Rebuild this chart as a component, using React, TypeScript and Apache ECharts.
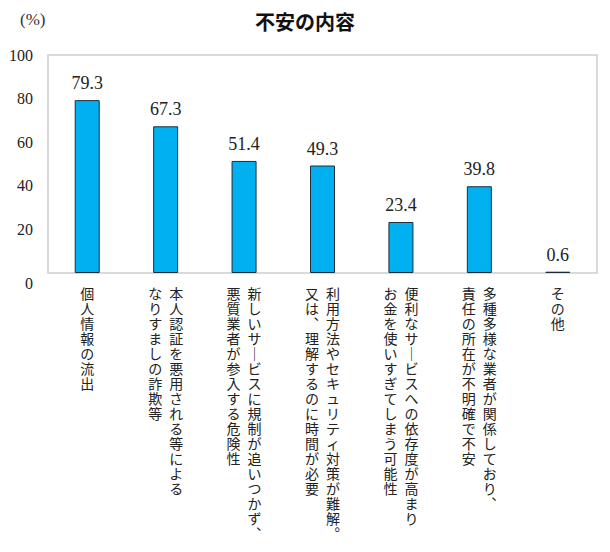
import React, { useEffect, useRef } from "react";
import * as echarts from "echarts";

const title = "不安の内容";
const unitLabel = "(%)";
// Each category: first line = right column, second line = left column (vertical writing)
const categories = [
  "個人情報の流出",
  "本人認証を悪用される等による\nなりすましの詐欺等",
  "新しいサービスに規制が追いつかず、\n悪質業者が参入する危険性",
  "利用方法やセキュリティ対策が難解。\n又は、理解するのに時間が必要",
  "便利なサービスへの依存度が高まり\nお金を使いすぎてしまう可能性",
  "多種多様な業者が関係しており、\n責任の所在が不明確で不安",
  "その他",
];
const values = [79.3, 67.3, 51.4, 49.3, 23.4, 39.8, 0.6];
const yTicks = { min: 0, max: 100, interval: 20 };

const SERIF = "'Liberation Serif', 'Times New Roman', serif";

const verticalMap: Record<string, string> = {
  "ー": "｜",
  "、": "︑",
  "。": "︒",
};

function toVertical(label: string): string {
  const cols = label.split("\n").map((s) => Array.from(s).map((c) => verticalMap[c] || c));
  const n = Math.max(...cols.map((c) => c.length));
  const lines: string[] = [];
  for (let i = 0; i < n; i++) {
    const parts: string[] = [];
    for (let k = cols.length - 1; k >= 0; k--) {
      const ch = cols[k][i] || "　";
      parts.push(`{c|${ch}}`);
    }
    lines.push(parts.join(""));
  }
  return lines.join("\n");
}

export default function App() {
  const ref = useRef<HTMLDivElement>(null);
  useEffect(() => {
    if (!ref.current) return;
    const chart = echarts.init(ref.current, undefined, { renderer: "svg" });
    chart.setOption({
      animation: false,
      backgroundColor: "#ffffff",
      title: {
        text: title,
        left: "center",
        top: 6,
        textStyle: {
          fontFamily: "Noto Sans CJK JP",
          fontSize: 20,
          fontWeight: "bold",
          color: "#111",
        },
      },
      graphic: [
        {
          type: "text",
          left: 20,
          top: 11,
          style: {
            text: unitLabel,
            fontFamily: SERIF,
            fontSize: 17,
            fill: "#333",
          },
        },
      ],
      grid: {
        left: 48,
        right: 13,
        top: 55,
        bottom: 279,
        show: true,
        borderColor: "#d9d9d9",
        borderWidth: 2,
        backgroundColor: "transparent",
      },
      xAxis: {
        type: "category",
        data: categories,
        axisLine: { show: false },
        axisTick: { show: false },
        axisLabel: {
          interval: 0,
          margin: 12,
          formatter: (v: string) => toVertical(v),
          rich: {
            c: {
              fontFamily: "Noto Sans CJK JP",
              fontSize: 14,
              lineHeight: 15,
              width: 21,
              align: "center",
              color: "#222",
            },
          },
        },
      },
      yAxis: {
        type: "value",
        min: yTicks.min,
        max: yTicks.max,
        interval: yTicks.interval,
        splitLine: { show: false },
        axisLine: { show: false },
        axisTick: { show: false },
        axisLabel: {
          margin: 15,
          fontFamily: SERIF,
          fontSize: 16,
          color: "#222",
          formatter: (v: number) => (v === 0 ? "{z|0}" : "{n|" + v + "}"),
          rich: {
            n: { fontFamily: SERIF, fontSize: 16, color: "#222" },
            z: {
              fontFamily: SERIF,
              fontSize: 16,
              color: "#222",
              padding: [20, 0, 0, 0],
            },
          },
        },
      },
      series: [
        {
          type: "bar",
          data: values,
          barWidth: 25,
          itemStyle: {
            color: "#00B0F0",
            borderColor: "#1c2e3e",
            borderWidth: 1,
          },
          label: {
            show: true,
            position: "top",
            distance: 8,
            fontFamily: SERIF,
            fontSize: 18,
            color: "#222",
            formatter: (p: any) => p.value.toFixed(1),
          },
        },
      ],
    });
    return () => chart.dispose();
  }, []);
  return (
    <div
      ref={ref}
      style={{ position: "fixed", left: 0, top: 0, width: 610, height: 552 }}
    />
  );
}
